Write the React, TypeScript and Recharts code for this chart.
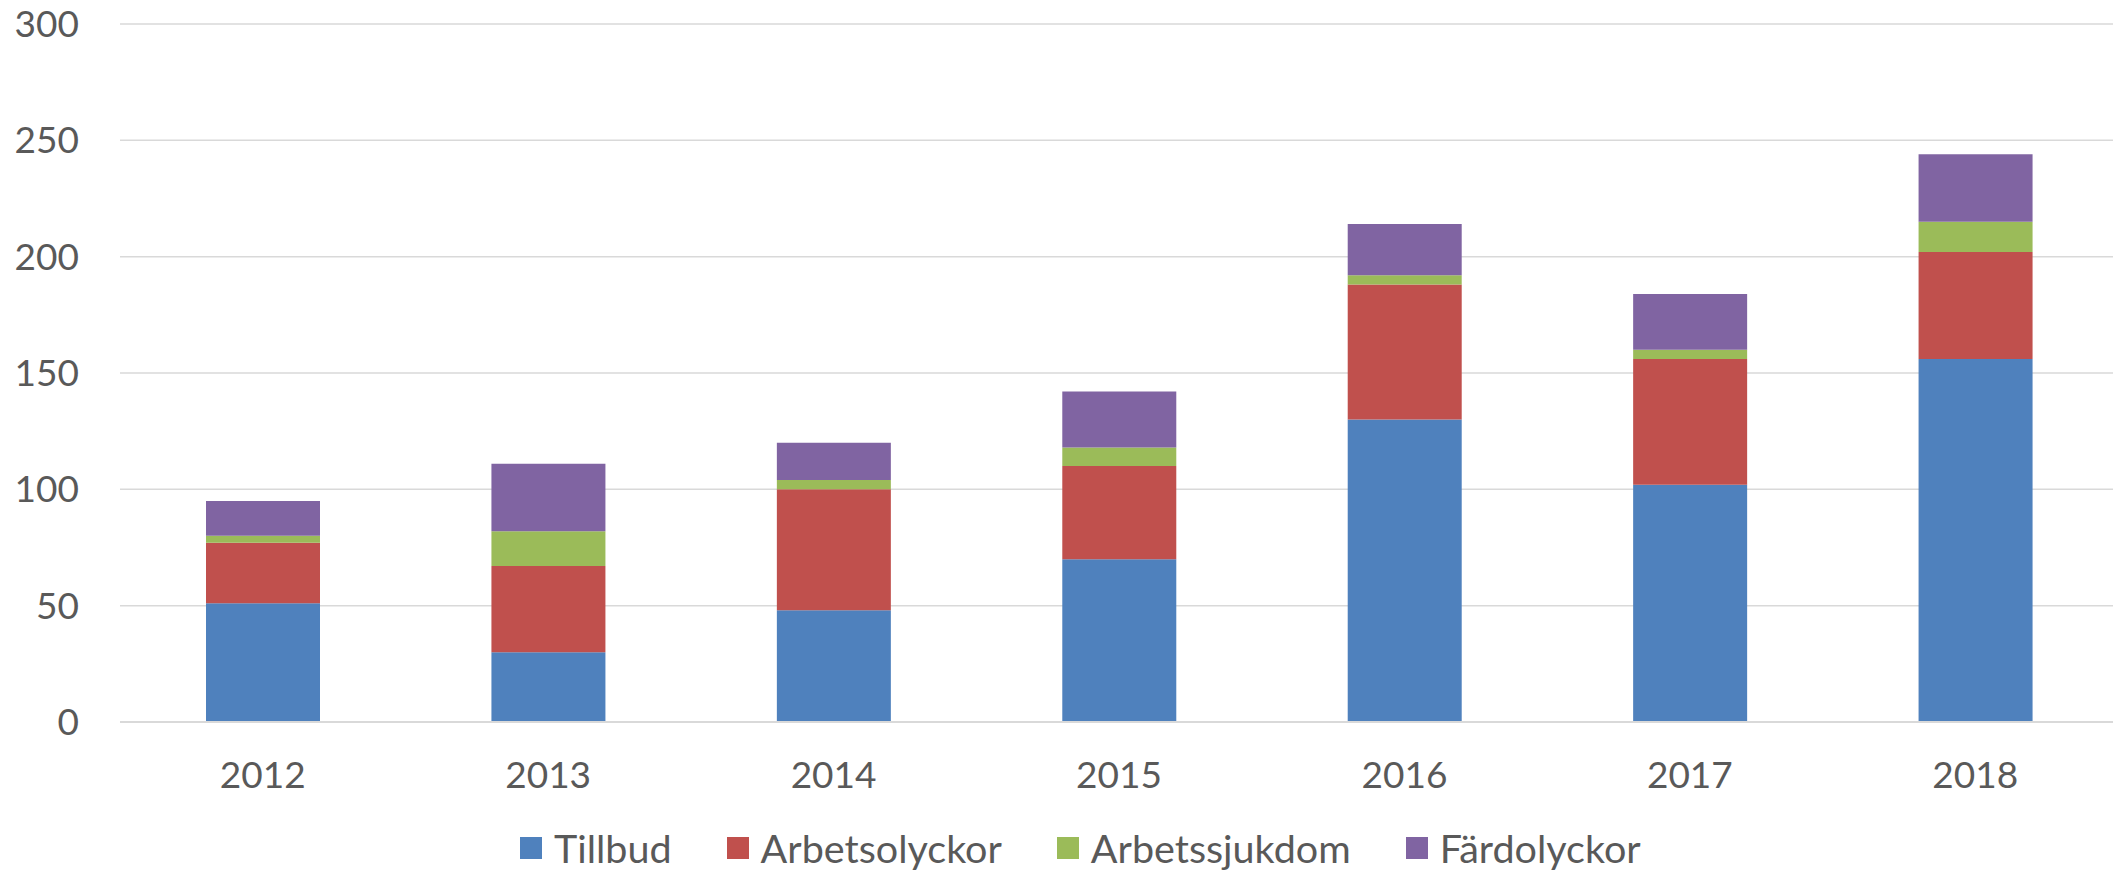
import React from 'react';
import { BarChart, Bar, XAxis, YAxis, CartesianGrid, Legend } from 'recharts';

const years = ['2012', '2013', '2014', '2015', '2016', '2017', '2018'];
const tillbud = [51, 30, 48, 70, 130, 102, 156];
const arbetsolyckor = [26, 37, 52, 40, 58, 54, 46];
const arbetssjukdom = [3, 15, 4, 8, 4, 4, 13];
const fardolyckor = [15, 29, 16, 24, 22, 24, 29];
const yTicks = [0, 50, 100, 150, 200, 250, 300];

const seriesNames = ['Tillbud', 'Arbetsolyckor', 'Arbetssjukdom', 'Färdolyckor'];
const seriesColors = ['#4F81BD', '#C0504D', '#9BBB59', '#8064A2'];
const seriesKeys = ['tillbud', 'arbetsolyckor', 'arbetssjukdom', 'fardolyckor'];

const data = years.map((y, i) => ({
  year: y,
  tillbud: tillbud[i],
  arbetsolyckor: arbetsolyckor[i],
  arbetssjukdom: arbetssjukdom[i],
  fardolyckor: fardolyckor[i],
}));

const FONT = 'Lato, sans-serif';
const TEXT = '#595959';

const renderLegend = () => (
  <div
    style={{
      display: 'flex',
      alignItems: 'center',
      boxSizing: 'border-box',
      paddingLeft: 520,
      paddingTop: 22,
      height: 74,
      fontFamily: FONT,
      fontSize: 39.5,
      lineHeight: 1.2,
      color: TEXT,
    }}
  >
    {seriesNames.map((n, i) => (
      <div key={n} style={{ display: 'flex', alignItems: 'center', marginRight: 55 }}>
        <div style={{ width: 22, height: 22, background: seriesColors[i], marginRight: 12 }} />
        <span style={{ whiteSpace: 'nowrap' }}>{n}</span>
      </div>
    ))}
  </div>
);

export default function App() {
  return (
    <div style={{ position: 'absolute', left: 0, top: 0, width: 2113, height: 874, overflow: 'hidden', background: '#fff' }}>
      <BarChart width={2118} height={874} data={data} margin={{ top: 24, right: 0, left: 0, bottom: 0 }}>
        <CartesianGrid vertical={false} stroke="#d9d9d9" strokeWidth={1.5} />
        <XAxis
          dataKey="year"
          height={78}
          tickLine={false}
          tickSize={0}
          tickMargin={40}
          axisLine={{ stroke: '#d9d9d9', strokeWidth: 2 }}
          tick={{ fill: TEXT, fontSize: 37, fontFamily: FONT }}
        />
        <YAxis
          width={120}
          domain={[0, 300]}
          ticks={yTicks}
          tickLine={false}
          axisLine={false}
          tickSize={0}
          tickMargin={41}
          tick={{ fill: TEXT, fontSize: 37, fontFamily: FONT }}
        />
        <Legend verticalAlign="bottom" height={74} content={renderLegend} />
        {seriesKeys.map((k, i) => (
          <Bar key={k} dataKey={k} name={seriesNames[i]} stackId="a" fill={seriesColors[i]} barSize={114} isAnimationActive={false} />
        ))}
      </BarChart>
    </div>
  );
}
